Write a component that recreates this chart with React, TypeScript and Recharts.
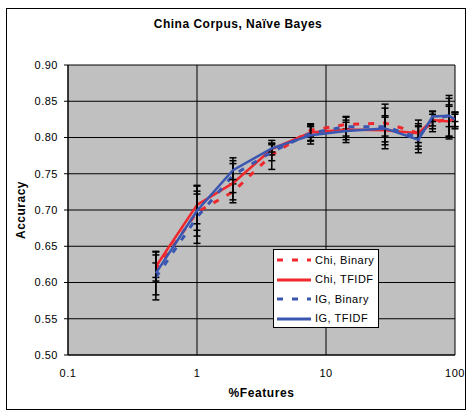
import React from 'react';
import { LineChart, Line, XAxis, YAxis, CartesianGrid, ErrorBar, Legend } from 'recharts';

const FONT = '"Liberation Sans", Arial, Helvetica, sans-serif';

// % of features (x, log scale)
const features = [0.48, 1, 1.9, 3.8, 7.6, 14.3, 28.7, 52, 67, 90, 100];

const chiBinary = [0.617, 0.697, 0.725, 0.776, 0.81, 0.818, 0.82, 0.806, 0.82, 0.826, 0.825];
const chiBinaryErr = [0.01, 0.025, 0.011, 0.02, 0.008, 0.006, 0.026, 0.013, 0.012, 0.028, 0.01];

const chiTfidf = [0.622, 0.707, 0.737, 0.784, 0.807, 0.811, 0.81, 0.806, 0.824, 0.822, 0.828];
const chiTfidfErr = [0.02, 0.026, 0.027, 0.008, 0.012, 0.018, 0.02, 0.018, 0.012, 0.021, 0.006];

const igBinary = [0.607, 0.69, 0.748, 0.78, 0.806, 0.815, 0.815, 0.8, 0.826, 0.83, 0.822];
const igBinaryErr = [0.031, 0.036, 0.024, 0.012, 0.01, 0.013, 0.013, 0.016, 0.01, 0.028, 0.01];

const igTfidf = [0.613, 0.699, 0.755, 0.785, 0.803, 0.809, 0.8125, 0.797, 0.829, 0.83, 0.825];
const igTfidfErr = [0.03, 0.035, 0.013, 0.005, 0.012, 0.012, 0.028, 0.018, 0.007, 0.015, 0.01];

const xTicks = [0.1, 1, 10, 100];
const yTicks = [0.5, 0.55, 0.6, 0.65, 0.7, 0.75, 0.8, 0.85, 0.9];

const RED = '#F0282D';
const BLUE = '#3A56B0';
const DASH = '6 9';

const data = features.map((x, i) => ({
  x,
  chiB: chiBinary[i],
  chiBErr: chiBinaryErr[i],
  chiT: chiTfidf[i],
  chiTErr: chiTfidfErr[i],
  igB: igBinary[i],
  igBErr: igBinaryErr[i],
  igT: igTfidf[i],
  igTErr: igTfidfErr[i],
}));

const renderLegend = (props: any) => {
  const payload = props.payload || [];
  return (
    <div
      style={{
        width: 106,
        height: 79,
        boxSizing: 'border-box',
        border: '1px solid #000',
        background: '#fff',
        paddingTop: 0,
        fontFamily: FONT,
      }}
    >
      {payload.map((entry: any, i: number) => {
        const dashed = entry.payload && entry.payload.strokeDasharray;
        return (
          <div key={i} style={{ height: 19.5, display: 'flex', alignItems: 'center', marginTop: i === 0 ? 0 : 0 }}>
            <svg width={40} height={19} style={{ display: 'block' }}>
              <line
                x1={3}
                y1={10}
                x2={37}
                y2={10}
                stroke={entry.color}
                strokeWidth={3}
                strokeDasharray={dashed ? DASH : undefined}
              />
            </svg>
            <span style={{ fontSize: 11, letterSpacing: 0.5, color: '#000', marginLeft: 1 }}>{entry.value}</span>
          </div>
        );
      })}
    </div>
  );
};

export default function App() {
  return (
    <div style={{ position: 'absolute', left: 0, top: 0, width: 470, height: 411, fontFamily: FONT }}>
      <div
        style={{
          position: 'absolute',
          left: 6,
          top: 8,
          width: 460,
          height: 402,
          border: '1px solid #000',
          boxSizing: 'border-box',
        }}
      />
      <div
        style={{
          position: 'absolute',
          left: 3,
          top: 17,
          width: 470,
          textAlign: 'center',
          fontSize: 12,
          lineHeight: '14px',
          fontWeight: 'bold',
          letterSpacing: 0.5,
        }}
      >
        China Corpus, Naïve Bayes
      </div>
      <div
        style={{
          position: 'absolute',
          left: -19,
          top: 203,
          width: 80,
          height: 14,
          textAlign: 'center',
          fontSize: 12,
          lineHeight: '14px',
          fontWeight: 'bold',
          letterSpacing: 0.5,
          transform: 'rotate(-90deg)',
        }}
      >
        Accuracy
      </div>
      <div
        style={{
          position: 'absolute',
          left: 68,
          top: 386,
          width: 387,
          textAlign: 'center',
          fontSize: 12,
          lineHeight: '14px',
          fontWeight: 'bold',
          letterSpacing: 0.6,
        }}
      >
        %Features
      </div>
      <div style={{ position: 'absolute', left: 0, top: 0 }}>
        <LineChart width={470} height={411} data={data} margin={{ top: 65, right: 15, bottom: 0, left: 0 }}>
          <CartesianGrid fill="#C0C0C0" stroke="#000" strokeOpacity={1} />
          <XAxis
            dataKey="x"
            type="number"
            scale="log"
            domain={[0.1, 100]}
            ticks={xTicks}
            allowDataOverflow
            height={56}
            tickLine={false}
            tickSize={6}
            tickMargin={8}
            axisLine={{ stroke: '#000' }}
            tick={{ fontSize: 11, fill: '#000', letterSpacing: 0.5, fontFamily: FONT }}
            tickFormatter={(v: number) => String(v)}
          />
          <YAxis
            type="number"
            domain={[0.5, 0.9]}
            ticks={yTicks}
            width={68}
            tickSize={4}
            tickMargin={6}
            axisLine={{ stroke: '#000' }}
            tickLine={{ stroke: '#000' }}
            tick={{ fontSize: 11, fill: '#000', letterSpacing: 0.5, fontFamily: FONT }}
            tickFormatter={(v: number) => v.toFixed(2)}
          />
          <Legend
            layout="vertical"
            verticalAlign="middle"
            align="center"
            wrapperStyle={{ left: 273, top: 249, width: 106, height: 79 }}
            content={renderLegend}
          />
          <Line
            name="Chi, Binary"
            dataKey="chiB"
            type="linear"
            stroke={RED}
            strokeWidth={3}
            strokeDasharray={DASH}
            dot={false}
            isAnimationActive={false}
          >
            <ErrorBar dataKey="chiBErr" width={3.5} stroke="#000" strokeWidth={1.5} direction="y" isAnimationActive={false} />
          </Line>
          <Line
            name="Chi, TFIDF"
            dataKey="chiT"
            type="linear"
            stroke={RED}
            strokeWidth={2.5}
            dot={false}
            isAnimationActive={false}
          >
            <ErrorBar dataKey="chiTErr" width={3.5} stroke="#000" strokeWidth={1.5} direction="y" isAnimationActive={false} />
          </Line>
          <Line
            name="IG, Binary"
            dataKey="igB"
            type="linear"
            stroke={BLUE}
            strokeWidth={3}
            strokeDasharray={DASH}
            dot={false}
            isAnimationActive={false}
          >
            <ErrorBar dataKey="igBErr" width={3.5} stroke="#000" strokeWidth={1.5} direction="y" isAnimationActive={false} />
          </Line>
          <Line
            name="IG, TFIDF"
            dataKey="igT"
            type="linear"
            stroke={BLUE}
            strokeWidth={2.5}
            dot={false}
            isAnimationActive={false}
          >
            <ErrorBar dataKey="igTErr" width={3.5} stroke="#000" strokeWidth={1.5} direction="y" isAnimationActive={false} />
          </Line>
        </LineChart>
      </div>
    </div>
  );
}
